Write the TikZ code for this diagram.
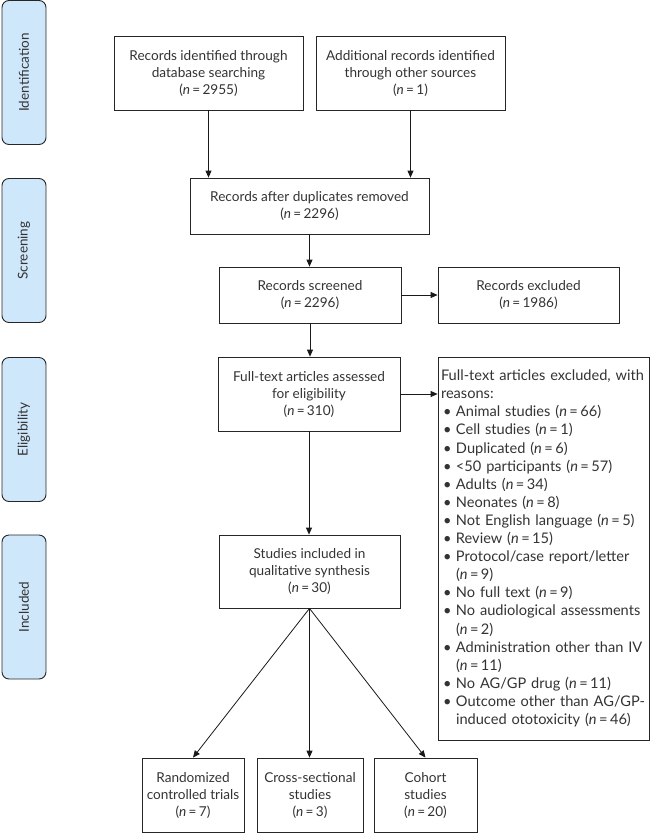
\documentclass[tikz,border=0pt]{standalone}
\usepackage{fontspec}
\setmainfont{Lato}
\usetikzlibrary{arrows.meta}
\definecolor{txt}{HTML}{333333}
\definecolor{phasefill}{HTML}{CFE7FA}
\newcommand\nv[1]{(\textit{n}\,=\,#1)}
\newcommand\bul{\makebox[15pt][l]{\hspace{2pt}\textbullet}}
\newcommand\cont{\hspace*{15pt}}
\begin{document}
\begin{tikzpicture}[x=1pt,y=-1pt,
  box/.style={draw=black!85, line width=0.8pt, text=txt, align=center,
    font=\fontsize{13.6}{17}\selectfont, inner sep=0pt},
  phaselbl/.style={draw=black!85, fill=phasefill, rounded corners=7pt, line width=0.9pt,
    text=txt, font=\fontsize{13.5}{15}\selectfont, rotate=90,
    minimum width=144pt, minimum height=44pt, inner sep=0pt},
  arr/.style={-{Triangle[length=7pt,width=6pt]}, line width=0.8pt, draw=black!90}]
\useasboundingbox (0,0) rectangle (652,833);

% phase labels
\node[phaselbl] (pid) at (24,72.5) {Identification};
\node[phaselbl] (psc) at (24,250.5) {Screening};
\node[phaselbl] (pel) at (24,429.5) {Eligibility};
\node[phaselbl] (pin) at (24,607) {Included};

% boxes
\node[box, minimum width=189pt, minimum height=74pt] (b1) at (208.5,73)
  {Records identified through\\database searching\\\nv{2955}};
\node[box, minimum width=189pt, minimum height=74pt] (b2) at (410.5,73)
  {Additional records identified\\through other sources\\\nv{1}};
\node[box, minimum width=239pt, minimum height=56pt] (dup) at (309.5,206)
  {Records after duplicates removed\\\nv{2296}};
\node[box, minimum width=182pt, minimum height=56pt] (scr) at (310,295)
  {Records screened\\\nv{2296}};
\node[box, minimum width=181pt, minimum height=56pt] (exc) at (528.5,295)
  {Records excluded\\\nv{1986}};
\node[box, minimum width=182pt, minimum height=74pt] (full) at (309,394)
  {Full-text articles assessed\\for eligibility\\\nv{310}};
\node[box, minimum width=211pt, minimum height=383pt, align=left,
  text width=205pt, inner xsep=3pt, font=\fontsize{14.6}{18.1}\selectfont] (exb) at (543.5,548.5)
  {Full-text articles excluded, with\\
   reasons:\\
   \bul Animal studies \nv{66}\\
   \bul Cell studies \nv{1}\\
   \bul Duplicated \nv{6}\\
   \bul <50 participants \nv{57}\\
   \bul Adults \nv{34}\\
   \bul Neonates \nv{8}\\
   \bul Not English language \nv{5}\\
   \bul Review \nv{15}\\
   \bul Protocol/case report/letter\\
   \cont\nv{9}\\
   \bul No full text \nv{9}\\
   \bul No audiological assessments\\
   \cont\nv{2}\\
   \bul Administration other than IV\\
   \cont\nv{11}\\
   \bul No AG/GP drug \nv{11}\\
   \bul Outcome other than AG/GP-\\
   \cont induced ototoxicity \nv{46}};
\node[box, minimum width=181pt, minimum height=73pt] (stud) at (309.5,571.5)
  {Studies included in\\qualitative synthesis\\\nv{30}};
\node[box, minimum width=102pt, minimum height=74pt] (rct) at (193,795)
  {Randomized\\controlled trials\\\nv{7}};
\node[box, minimum width=106pt, minimum height=74pt] (cross) at (310,795)
  {Cross-sectional\\studies\\\nv{3}};
\node[box, minimum width=103pt, minimum height=74pt] (coh) at (425.5,795)
  {Cohort\\studies\\\nv{20}};

% connectors
\draw[arr] (b1.south) -- (b1.south |- dup.north);
\draw[arr] (b2.south) -- (b2.south |- dup.north);
\draw[arr] (dup.south) -- (dup.south |- scr.north);
\draw[arr] (scr.east) -- (exc.west);
\draw[arr] (scr.south) -- (scr.south |- full.north);
\draw[arr] (full.east) -- (full.east -| exb.west);
\draw[arr] (full.south) -- (full.south |- stud.north);
\draw[arr] (stud.south) -- (rct.north);
\draw[arr] (stud.south) -- (stud.south |- cross.north);
\draw[arr] (stud.south) -- (coh.north);
\end{tikzpicture}
\end{document}
